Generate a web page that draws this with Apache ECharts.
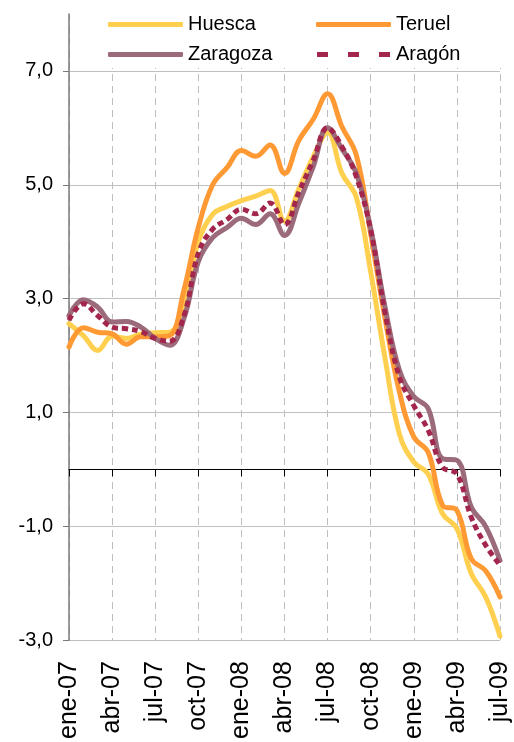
<!DOCTYPE html>
<html>
<head>
<meta charset="utf-8">
<script src="https://cdn.jsdelivr.net/npm/echarts@6/dist/echarts.min.js"></script>
<style>html,body{margin:0;padding:0;background:#fff}#c{width:514px;height:742px}</style>
</head>
<body>
<div id="c"></div>
<script>
const months = ['ene-07','feb-07','mar-07','abr-07','may-07','jun-07','jul-07','ago-07','sep-07','oct-07','nov-07','dic-07',
  'ene-08','feb-08','mar-08','abr-08','may-08','jun-08','jul-08','ago-08','sep-08','oct-08','nov-08','dic-08',
  'ene-09','feb-09','mar-09','abr-09','may-09','jun-09','jul-09'];
const huesca = [2.56,2.35,2.09,2.34,2.30,2.38,2.40,2.41,2.91,4.00,4.48,4.62,4.72,4.80,4.90,4.36,4.93,5.49,5.92,5.20,4.78,3.47,1.95,0.62,0.13,-0.08,-0.78,-1.04,-1.83,-2.24,-2.93];
const teruel = [2.15,2.49,2.41,2.38,2.20,2.33,2.33,2.35,3.15,4.25,5.00,5.30,5.60,5.50,5.70,5.20,5.78,6.15,6.60,6.02,5.52,4.14,2.65,1.36,0.57,0.30,-0.63,-0.72,-1.57,-1.78,-2.24];
const zaragoza = [2.70,2.98,2.85,2.59,2.60,2.50,2.30,2.18,2.65,3.65,4.07,4.25,4.41,4.30,4.49,4.11,4.68,5.32,6.00,5.63,5.20,4.23,2.85,1.74,1.28,1.07,0.19,0.16,-0.66,-1.00,-1.60];
const aragon = [2.62,2.91,2.70,2.50,2.47,2.42,2.30,2.25,2.70,3.80,4.22,4.39,4.57,4.49,4.68,4.30,4.87,5.43,6.00,5.67,5.14,4.20,2.74,1.62,1.12,0.69,0.04,-0.08,-0.84,-1.33,-1.68];
const yTicks = [-3,-1,1,3,5,7];
const seriesNames = ['Huesca','Teruel','Zaragoza','Aragón'];

const FONT = 'Liberation Sans, Arial, sans-serif';
const every3 = (i) => i % 3 === 0;
const chart = echarts.init(document.getElementById('c'), null, {renderer: 'canvas'});

function lineSeries(name, data, color, extra) {
  return Object.assign({
    name: name, type: 'line', data: data, xAxisIndex: 0, yAxisIndex: 0,
    smooth: 0.4, symbol: 'none', showSymbol: false,
    lineStyle: {color: color, width: 5, cap: 'round', join: 'round'},
    itemStyle: {color: color},
    emphasis: {disabled: true}
  }, extra || {});
}

const legendBase = {
  orient: 'vertical', top: 13,
  backgroundColor: '#fff',
  itemWidth: 75, itemHeight: 5, itemGap: 10,
  icon: 'roundRect',
  textStyle: {fontFamily: FONT, fontSize: 20, color: '#000'},
  selectedMode: false
};

chart.setOption({
  animation: false,
  backgroundColor: '#fff',
  grid: {left: 69, right: 14, top: 14, bottom: 101, containLabel: false},
  legend: [
    Object.assign({}, legendBase, {
      left: 70, padding: [1.5, 60, 3.5, 38],
      data: [{name: seriesNames[0]}, {name: seriesNames[2]}]
    }),
    Object.assign({}, legendBase, {
      left: 300, padding: [1.5, 60, 3.5, 16],
      data: [{name: seriesNames[1]},
             {name: seriesNames[3], icon: 'path://M0,0h11v5h-11z M31,0h11v5h-11z M62,0h11v5h-11z'}]
    })
  ],
  xAxis: [
    {
      type: 'category', data: months, boundaryGap: false, position: 'bottom',
      axisLine: {show: false, onZero: false},
      axisTick: {show: false},
      axisLabel: {interval: every3, rotate: 90, margin: 21, fontFamily: FONT, fontSize: 25, color: '#000'},
      splitLine: {show: true, interval: every3, lineStyle: {color: '#bdbdbd', width: 1, type: [7, 5]}}
    },
    {
      type: 'category', data: months, boundaryGap: false, position: 'bottom',
      axisLine: {show: true, onZero: true, lineStyle: {color: '#000', width: 1}},
      axisTick: {show: true, interval: every3, length: 7, inside: false, lineStyle: {color: '#000', width: 1}},
      axisLabel: {show: false},
      splitLine: {show: false}
    }
  ],
  yAxis: {
    type: 'value', min: -3, max: 8, interval: 2,
    axisLine: {show: true, lineStyle: {color: '#7a7a7a', width: 1.5}},
    axisTick: {show: true, length: 6, customValues: yTicks, lineStyle: {color: '#7a7a7a', width: 1}},
    axisLabel: {margin: 16, fontFamily: FONT, fontSize: 20, color: '#000',
      formatter: (v) => v === 8 ? '' : v.toFixed(1).replace('.', ',')},
    splitLine: {show: true, lineStyle: {color: ['#c0c0c0','#c0c0c0','#c0c0c0','#c0c0c0','#c0c0c0','#c0c0c0','rgba(0,0,0,0)'], width: 1}}
  },
  series: [
    lineSeries(seriesNames[0], huesca, '#FFD04F'),
    lineSeries(seriesNames[1], teruel, '#FF9933'),
    lineSeries(seriesNames[2], zaragoza, '#9B6B7B'),
    lineSeries(seriesNames[3], aragon, '#A3274D', {lineStyle: {color: '#A3274D', width: 5, type: [6, 4], cap: 'butt', join: 'round'}})
  ]
});
</script>
</body>
</html>
